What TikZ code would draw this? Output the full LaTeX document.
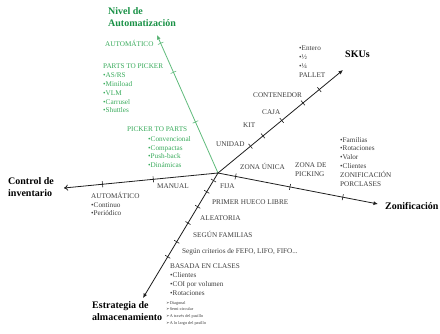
\documentclass[tikz,border=0pt]{standalone}
\usepackage{fontspec}
\setmainfont{Liberation Serif}
\newfontfamily\dingfont{DejaVu Sans}
\usepackage{xcolor}
\definecolor{ColAxis}{RGB}{30,30,30}
\definecolor{ColText}{RGB}{60,60,60}
\definecolor{ColGreen}{RGB}{55,170,90}
\definecolor{ColGreenDark}{RGB}{25,145,70}
\usetikzlibrary{arrows.meta,calc}
\tikzstyle{Axis}=[draw=ColAxis,line width=0.8pt,-{Latex[length=4.5pt,width=4pt]}]
\tikzstyle{AxisGreen}=[draw=ColGreen!80,line width=0.8pt,-{Latex[length=4.5pt,width=4pt,fill=ColAxis]}]
\tikzstyle{Tick}=[draw=ColAxis,line width=0.6pt]
\tikzstyle{Label}=[inner sep=0pt,anchor=west,text=ColText,
font=\fontsize{7.2}{8.8}\selectfont]
\tikzstyle{Block}=[Label,anchor=north west,align=left]
\tikzstyle{GreenLabel}=[Label,text=ColGreen]
\tikzstyle{GreenBlock}=[Block,text=ColGreen]
\tikzstyle{Title}=[inner sep=0pt,anchor=north west,align=left,text=black,
font=\fontsize{10}{12.5}\selectfont\bfseries]
\tikzstyle{Tiny}=[Block,font=\fontsize{4.3}{6.8}\selectfont]
\newcommand{\arr}{{\dingfont ➢}}

\begin{document}
\begin{tikzpicture}[x=1pt,y=-1pt]
        \useasboundingbox(0,0)rectangle(440,333);
        % axes
        \coordinate(O)at(218,173);
        \coordinate(SkuEnd)at(343,70);
        \coordinate(ZonEnd)at(378,204);
        \coordinate(CtrlEnd)at(64,188);
        \coordinate(EstEnd)at(143,298);
        \coordinate(AutEnd)at(157,35);
        \draw[AxisGreen](O)--(AutEnd);
        \draw[Axis](O)--(SkuEnd);
        \draw[Axis](O)--(ZonEnd);
        \draw[draw=ColAxis,line width=0.8pt,-{To[length=4pt,width=6pt]}](O)--(CtrlEnd);
        \draw[Axis](O)--(EstEnd);
        % ticks
        \foreach \p in {0.37,0.73,0.94}{
            \coordinate(t)at($(O)!\p!(AutEnd)$);
            \draw[Tick,draw=ColGreen!80]($(t)!3pt!90:(AutEnd)$)--($(t)!3pt!-90:(AutEnd)$);}
        \foreach \p in {0.26,0.36,0.51,0.68,0.81}{
            \coordinate(t)at($(O)!\p!(SkuEnd)$);
            \draw[Tick]($(t)!3pt!90:(SkuEnd)$)--($(t)!3pt!-90:(SkuEnd)$);}
        \foreach \p in {0.11,0.45,0.78}{
            \coordinate(t)at($(O)!\p!(ZonEnd)$);
            \draw[Tick]($(t)!3pt!90:(ZonEnd)$)--($(t)!3pt!-90:(ZonEnd)$);}
        \foreach \p in {0.42,0.75}{
            \coordinate(t)at($(O)!\p!(CtrlEnd)$);
            \draw[Tick]($(t)!3pt!90:(CtrlEnd)$)--($(t)!3pt!-90:(CtrlEnd)$);}
        \foreach \p in {0.06,0.15,0.27,0.4,0.55,0.67}{
            \coordinate(t)at($(O)!\p!(EstEnd)$);
            \draw[Tick]($(t)!3pt!90:(EstEnd)$)--($(t)!3pt!-90:(EstEnd)$);}
        % nivel de automatizacion
        \node[Title,text=ColGreenDark](aut)at(108,7){Nivel de\\Automatización};
        \node[GreenLabel](autA)at(105,43){AUTOMÁTICO};
        \node[GreenBlock](autP)at(103,64){PARTS TO PICKER\\•AS/RS\\•Miniload\\
            •VLM\\•Carrusel\\•Shuttles};
        \node[GreenLabel](autM)at(127,129){PICKER TO PARTS};
        \node[GreenBlock](autMl)at(148,136){•Convencional\\•Compactas\\
            •Push-back\\•Dinámicas};
        % skus
        \node[Title](sku)at(345,51){SKUs};
        \node[Block](skuP)at(299,46){•Entero\\•½\\•¼\\PALLET};
        \node[Label](skuC)at(253,95){CONTENEDOR};
        \node[Label](skuB)at(262,112){CAJA};
        \node[Label](skuK)at(243,125){KIT};
        \node[Label](skuU)at(216,144){UNIDAD};
        % zonificacion
        \node[Title](zon)at(385,202){Zonificación};
        \node[Label](zonU)at(240,166){ZONA ÚNICA};
        \node[Block](zonP)at(295,163){ZONA DE\\PICKING};
        \node[Block](zonC)at(340,137){•Familias\\•Rotaciones\\•Valor\\
            •Clientes\\ZONIFICACIÓN\\PORCLASES};
        % control de inventario
        \node[Title](ctrl)at(8,177){Control de\\inventario};
        \node[Label](ctrlM)at(157,186){MANUAL};
        \node[Block](ctrlA)at(91,192){AUTOMÁTICO\\•Continuo\\•Periódico};
        % estrategia de almacenamiento
        \node[Title](est)at(92,301){Estrategia de\\almacenamiento};
        \node[Label](estF)at(220,186){FIJA};
        \node[Label](estH)at(212,202){PRIMER HUECO LIBRE};
        \node[Label](estA)at(200,218){ALEATORIA};
        \node[Label](estS)at(193,234){SEGÚN FAMILIAS};
        \node[Label](estC)at(182,252){Según criterios de FEFO, LIFO, FIFO...};
        \node[Block](estB)at(170,264){BASADA EN CLASES\\•Clientes\\
            •COI por volumen\\•Rotaciones};
        \node[Tiny](estT)at(166,301){\arr Diagonal\\\arr Semi-circular\\
            \arr A través del pasillo\\\arr A lo largo del pasillo};
    \end{tikzpicture}
\end{document}
